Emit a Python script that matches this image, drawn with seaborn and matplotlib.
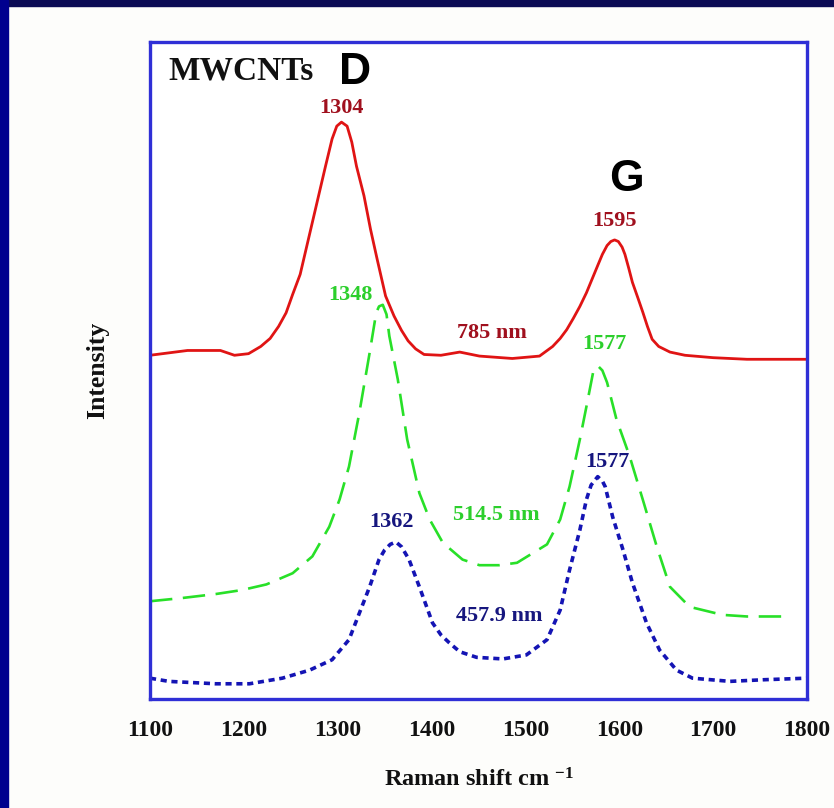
import numpy as np
import pandas as pd
import seaborn as sns
import matplotlib
matplotlib.use("Agg")
import matplotlib.pyplot as plt
from matplotlib.patches import Rectangle

# Raman spectra of MWCNTs at three excitation wavelengths (offset intensities)
shift_785 = [1100, 1140, 1175, 1190, 1205, 1218, 1228, 1237, 1245, 1252, 1260,
             1267, 1274, 1280, 1287, 1294, 1299, 1304, 1310, 1315, 1320, 1328,
             1335, 1342, 1351, 1360, 1368, 1375, 1383, 1392, 1410, 1430, 1451,
             1486, 1515, 1529, 1537, 1544, 1551, 1558, 1565, 1571, 1577, 1582,
             1587, 1591, 1595, 1599, 1603, 1606, 1610, 1614, 1620, 1625, 1630,
             1635, 1642, 1654, 1670, 1700, 1736, 1800]
int_785 = [3.09, 3.15, 3.15, 3.09, 3.11, 3.20, 3.30, 3.45, 3.62, 3.85, 4.10,
           4.45, 4.80, 5.10, 5.45, 5.79, 5.95, 6.00, 5.95, 5.75, 5.45, 5.08,
           4.66, 4.29, 3.83, 3.58, 3.40, 3.27, 3.17, 3.10, 3.09, 3.13, 3.08,
           3.05, 3.08, 3.20, 3.30, 3.41, 3.55, 3.70, 3.87, 4.04, 4.21, 4.35,
           4.46, 4.51, 4.53, 4.51, 4.44, 4.35, 4.18, 4.00, 3.80, 3.63, 3.45,
           3.29, 3.20, 3.13, 3.09, 3.06, 3.04, 3.04]

shift_514 = [1100, 1134, 1170, 1198, 1224, 1252, 1273, 1291, 1302, 1312, 1323,
             1334, 1341, 1344, 1348, 1352, 1355, 1364, 1374, 1387, 1398, 1412,
             1433, 1451, 1472, 1491, 1523, 1537, 1547, 1558, 1565, 1572, 1577,
             1582, 1587, 1597, 1611, 1625, 1640, 1654, 1675, 1710, 1736, 1777]
int_514 = [0.02, 0.06, 0.11, 0.16, 0.23, 0.37, 0.58, 0.95, 1.29, 1.70, 2.37,
           3.12, 3.62, 3.70, 3.72, 3.60, 3.33, 2.79, 2.04, 1.37, 1.04, 0.75,
           0.54, 0.47, 0.47, 0.50, 0.73, 1.04, 1.45, 2.04, 2.45, 2.87, 2.96,
           2.90, 2.75, 2.29, 1.83, 1.29, 0.70, 0.20, -0.05, -0.15, -0.17, -0.17]

shift_458 = [1100, 1120, 1170, 1206, 1241, 1270, 1294, 1312, 1323, 1334, 1344,
             1350, 1356, 1362, 1368, 1376, 1387, 1401, 1410, 1419, 1430, 1448,
             1476, 1501, 1523, 1537, 1547, 1558, 1565, 1570, 1577, 1582, 1585,
             1593, 1604, 1614, 1629, 1643, 1661, 1678, 1718, 1753, 1800]
int_458 = [-0.94, -0.98, -1.01, -1.01, -0.94, -0.84, -0.71, -0.46, -0.13, 0.20,
           0.54, 0.66, 0.73, 0.76, 0.70, 0.54, 0.20, -0.25, -0.40, -0.50, -0.61,
           -0.68, -0.70, -0.65, -0.46, -0.09, 0.41, 0.91, 1.29, 1.47, 1.575,
           1.52, 1.45, 1.07, 0.66, 0.25, -0.25, -0.59, -0.84, -0.94, -0.98,
           -0.96, -0.94]

# Peak annotations: (text, x, y)
peaks_785 = [("1304", 1304, 6.18), ("1595", 1595, 4.76)]
peaks_514 = [("1348", 1314, 3.84), ("1577", 1584, 3.23)]
peaks_458 = [("1362", 1357, 1.01), ("1577", 1587, 1.76)]
wavelength_labels = [("785 nm", 1464, 3.37), ("514.5 nm", 1469, 1.10),
                     ("457.9 nm", 1472, -0.17)]
x_ticks = [1100, 1200, 1300, 1400, 1500, 1600, 1700, 1800]
y_ticks = [0, 1, 2, 3, 4, 5, 6]

sns.set_style("white")
plt.rcParams["font.family"] = ["Liberation Serif", "DejaVu Serif"]
plt.rcParams["mathtext.fontset"] = "custom"
plt.rcParams["mathtext.rm"] = "Liberation Serif:bold"
plt.rcParams["mathtext.it"] = "Liberation Serif:bold"

RED, GREEN, BLUE = "#e01414", "#28e028", "#1414b4"
RED_T, GREEN_T, BLUE_T = "#a0101e", "#2ccf2c", "#16167e"
SPINE = "#2f2fd6"

fig = plt.figure(figsize=(8.34, 8.08), dpi=100, facecolor="#fdfdfb")
# dark slide frame
fig.patches.append(Rectangle((0, 1 - 6 / 808), 1, 6 / 808, transform=fig.transFigure,
                             color="#0b0b55", zorder=0))
fig.patches.append(Rectangle((0, 0), 8 / 834, 1, transform=fig.transFigure,
                             color="#00008e", zorder=0))

ax = fig.add_axes([150 / 834, 1 - 699 / 808, 657 / 834, 657 / 808])
ax.set_facecolor("white")

df785 = pd.DataFrame({"shift": shift_785, "I": int_785})
df514 = pd.DataFrame({"shift": shift_514, "I": int_514})
df458 = pd.DataFrame({"shift": shift_458, "I": int_458})

sns.lineplot(data=df785, x="shift", y="I", ax=ax, color=RED, linewidth=2.0,
             sort=False, solid_capstyle="round", solid_joinstyle="round")
sns.lineplot(data=df514, x="shift", y="I", ax=ax, color=GREEN, linewidth=1.9,
             sort=False, linestyle=(0, (8.5, 4.0)))
sns.lineplot(data=df458, x="shift", y="I", ax=ax, color=BLUE, linewidth=2.6,
             sort=False, linestyle=(0, (1.7, 1.3)))

ax.set_xlim(1100, 1800)
ax.set_ylim(-1.2, 7.0)
ax.set_xticks(x_ticks)
ax.set_xticklabels([str(t) for t in x_ticks], fontsize=17, fontweight="bold")
ax.set_yticks(y_ticks)
ax.set_yticklabels([])
ax.tick_params(axis="x", direction="in", length=8, width=1, color="#a8a8d8",
               pad=15, labelcolor="#111111")
ax.tick_params(axis="y", direction="in", length=10, width=1, color="#9a9ae6")
for s in ax.spines.values():
    s.set_color(SPINE)
    s.set_linewidth(2.4)

ax.set_xlabel("Raman shift cm $^{-1}$", fontsize=17.5, fontweight="bold",
              labelpad=20, color="#111111")
ax.set_ylabel("Intensity", fontsize=18.5, fontweight="bold", labelpad=26,
              color="#111111")

label_kw = dict(fontsize=16, fontweight="bold", ha="center", va="center")
for txt, x, y in peaks_785:
    ax.text(x, y, txt, color=RED_T, **label_kw)
for txt, x, y in peaks_514:
    ax.text(x, y, txt, color=GREEN_T, **label_kw)
for txt, x, y in peaks_458:
    ax.text(x, y, txt, color=BLUE_T, **label_kw)
for (txt, x, y), c in zip(wavelength_labels, [RED_T, GREEN_T, BLUE_T]):
    ax.text(x, y, txt, color=c, **label_kw)

ax.text(1120, 6.64, "MWCNTs", fontsize=24, fontweight="bold", color="#111111",
        ha="left", va="center")
ax.text(1318, 6.62, "D", fontsize=32, fontweight="bold", color="black",
        family="Liberation Sans", ha="center", va="center")
ax.text(1608, 5.28, "G", fontsize=32, fontweight="bold", color="black",
        family="Liberation Sans", ha="center", va="center")

fig.savefig("out.png", dpi=100, facecolor=fig.get_facecolor())
